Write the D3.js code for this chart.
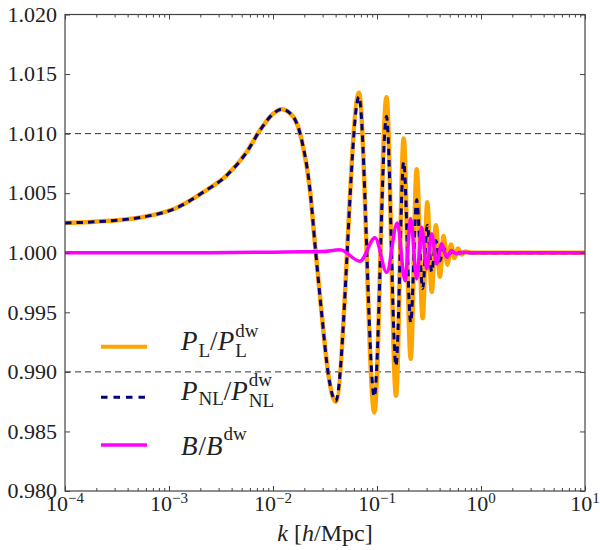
<!DOCTYPE html>
<html>
<head>
<meta charset="utf-8">
<script src="https://cdn.jsdelivr.net/npm/d3@7"></script>
<style>
  body { margin: 0; background: #fff; }
</style>
</head>
<body>
<div id="chart"></div>
<script>
// Ratio of wiggle / de-wiggled spectra
var kL = [1e-4, 2.7e-4, 5.3e-4, 1.19e-3, 2.14e-3, 3.59e-3, 5.59e-3, 7.5e-3, 0.0101, 0.01213,
  0.0157, 0.0189, 0.0227, 0.0254, 0.0294, 0.0340, 0.0401, 0.0671, 0.0942, 0.1234,
  0.1523, 0.1805, 0.2109, 0.2408, 0.2750, 0.3046, 0.3357, 0.368, 0.402, 0.437,
  0.475, 0.515, 0.555, 0.60, 0.65, 0.71, 0.80, 10];
var ratioL = [1.00250, 1.00268, 1.00296, 1.00378, 1.00509, 1.00650, 1.00846, 1.01028, 1.01169, 1.01205,
  1.01140, 1.00944, 1.00524, 1.00060, 0.99486, 0.98982, 0.98750, 1.01344, 0.98660, 1.01306,
  0.98799, 1.00959, 0.99110, 1.00700, 0.99451, 1.00423, 0.99670, 1.00230, 0.99800, 1.00140,
  0.99900, 1.00070, 0.99955, 1.00035, 0.99985, 1.00010, 1.00000, 1.00000];

var kNL = [1e-4, 2.7e-4, 5.3e-4, 1.19e-3, 2.14e-3, 3.59e-3, 5.59e-3, 7.5e-3, 0.0101, 0.01213,
  0.0157, 0.0189, 0.0227, 0.0254, 0.0294, 0.0340, 0.0401, 0.0671, 0.0942, 0.1234,
  0.1523, 0.1805, 0.2109, 0.2408, 0.2750, 0.3046, 0.3357, 0.368, 0.402, 0.437,
  0.475, 0.53, 0.62, 10];
var ratioNL = [1.00250, 1.00268, 1.00296, 1.00378, 1.00509, 1.00650, 1.00846, 1.01028, 1.01169, 1.01205,
  1.01140, 1.00944, 1.00524, 1.00060, 0.99486, 0.98982, 0.98755, 1.01310, 0.98792, 1.01145,
  0.99052, 1.00763, 0.99415, 1.00444, 0.99700, 1.00230, 0.99840, 1.00100, 0.99930, 1.00040,
  0.99980, 1.00005, 1.00000, 1.00000];

var kB = [1e-4, 3e-4, 1e-3, 4e-3, 0.01, 0.02, 0.03, 0.0441, 0.0686, 0.0957,
  0.1240, 0.1567, 0.1859, 0.2109, 0.2408, 0.2690, 0.3005, 0.3357, 0.375, 0.4189,
  0.468, 0.52, 0.58, 0.66, 0.80, 10];
var ratioB = [1.00000, 1.00000, 1.00000, 1.00002, 1.00005, 1.00008, 1.00010, 1.00025, 0.99929, 1.00126,
  0.99836, 1.00249, 0.99766, 1.00286, 0.99781, 1.00215, 0.99865, 1.00159, 0.99907, 1.00075,
  0.99963, 1.00018, 0.99992, 1.00004, 1.00000, 1.00000];

var yTicks = [0.980, 0.985, 0.990, 0.995, 1.000, 1.005, 1.010, 1.015, 1.020];
var xTickExps = [-4, -3, -2, -1, 0, 1];
var refLines = [0.990, 1.010];

var FONT = "Liberation Serif";
var INK = "#222";

var svgWidth = 600;
var svgHeight = 550;
var margin = { top: 14.5, right: 15, bottom: 59, left: 65 };
var width = svgWidth - margin.left - margin.right;
var height = svgHeight - margin.top - margin.bottom;

var svg = d3.select("#chart")
  .append("svg")
  .attr("width", svgWidth)
  .attr("height", svgHeight);

var chartGroup = svg.append("g")
  .attr("transform", `translate(${margin.left}, ${margin.top})`);

var xScale = d3.scaleLog().domain([1e-4, 10]).range([0, width]);
var yScale = d3.scaleLinear().domain([0.980, 1.020]).range([height, 0]);

// dashed guide lines
chartGroup.selectAll(".ref")
  .data(refLines)
  .enter()
  .append("line")
  .attr("x1", 0)
  .attr("x2", width)
  .attr("y1", d => yScale(d))
  .attr("y2", d => yScale(d))
  .attr("stroke", "#333")
  .attr("stroke-width", 1)
  .attr("stroke-dasharray", "6,4");

function drawCurve(ks, vals, color, lw, dash) {
  var pts = ks.map((k, i) => [xScale(k), yScale(vals[i])]);
  var path = chartGroup.append("path")
    .attr("d", d3.line().curve(d3.curveMonotoneX)(pts))
    .attr("fill", "none")
    .attr("stroke", color)
    .attr("stroke-width", lw);
  if (dash) path.attr("stroke-dasharray", dash);
}

drawCurve(kL, ratioL, "#FFA500", 4.5);
drawCurve(kNL, ratioNL, "#000080", 3, "6.5,5");
drawCurve(kB, ratioB, "#FF00FF", 3.5);

// ticks (inward, mirrored on all sides)
var majorX = xTickExps.map(e => Math.pow(10, e));
var minorX = [];
xTickExps.slice(0, -1).forEach(function (e) {
  for (var m = 2; m < 10; m++) minorX.push(m * Math.pow(10, e));
});

function tickSet(axisFn, values, size, transform) {
  var g = chartGroup.append("g")
    .attr("transform", transform)
    .call(axisFn.tickValues(values).tickSize(size).tickFormat(""));
  g.select(".domain").remove();
  g.selectAll("line").attr("stroke", "#444").attr("stroke-width", 1);
}

tickSet(d3.axisBottom(xScale), majorX, -5, `translate(0, ${height})`);
tickSet(d3.axisBottom(xScale), minorX, -3, `translate(0, ${height})`);
tickSet(d3.axisTop(xScale), majorX, -5, "translate(0, 0)");
tickSet(d3.axisTop(xScale), minorX, -3, "translate(0, 0)");
tickSet(d3.axisLeft(yScale), yTicks, -5, "translate(0, 0)");
tickSet(d3.axisRight(yScale), yTicks, -5, `translate(${width}, 0)`);

// frame
chartGroup.append("rect")
  .attr("width", width)
  .attr("height", height)
  .attr("fill", "none")
  .attr("stroke", "#444")
  .attr("stroke-width", 1.2);

// y tick labels
chartGroup.selectAll(".ylab")
  .data(yTicks)
  .enter()
  .append("text")
  .attr("x", -8)
  .attr("y", d => yScale(d))
  .attr("dy", "0.33em")
  .attr("text-anchor", "end")
  .attr("font-family", FONT)
  .attr("font-size", 22)
  .attr("fill", INK)
  .text(d3.format(".3f"));

// x tick labels 10^n
var xLabs = chartGroup.selectAll(".xlab")
  .data(xTickExps)
  .enter()
  .append("text")
  .attr("x", d => xScale(Math.pow(10, d)))
  .attr("y", height + 20)
  .attr("text-anchor", "middle")
  .attr("font-family", FONT)
  .attr("font-size", 22)
  .attr("fill", INK);
xLabs.append("tspan").text("10");
xLabs.append("tspan")
  .attr("dy", -8)
  .attr("font-size", 15)
  .text(d => d < 0 ? "\u2212" + (-d) : d);

// x axis title
var xTitle = chartGroup.append("text")
  .attr("x", width / 2)
  .attr("y", height + 50)
  .attr("text-anchor", "middle")
  .attr("font-family", FONT)
  .attr("font-size", 24)
  .attr("fill", INK);
xTitle.append("tspan").attr("font-style", "italic").text("k");
xTitle.append("tspan").text(" [");
xTitle.append("tspan").attr("font-style", "italic").text("h");
xTitle.append("tspan").text("/Mpc]");

// legend
var legendRows = [
  { color: "#FFA500", lw: 4, dash: null, y: 346.7, base: 350,
    parts: [["P", 27, 1, 0], ["L", 19, 0, 7], ["/", 27, 0, 0], ["P", 27, 1, 0], ["dw", 19, 0, -13], ["L", 19, 0, 7, 1]] },
  { color: "#000080", lw: 3, dash: "6.5,6", y: 397.3, base: 399.5,
    parts: [["P", 27, 1, 0], ["NL", 19, 0, 5], ["/", 27, 0, 0], ["P", 27, 1, 0], ["dw", 19, 0, -14], ["NL", 19, 0, 7, 1]] },
  { color: "#FF00FF", lw: 3.5, dash: null, y: 445, base: 455,
    parts: [["B", 27, 1, 0], ["/", 27, 0, 0], ["B", 27, 1, 0], ["dw", 19, 0, -15]] }
];

legendRows.forEach(function (row) {
  var ln = svg.append("line")
    .attr("x1", 101).attr("x2", 147)
    .attr("y1", row.y).attr("y2", row.y)
    .attr("stroke", row.color)
    .attr("stroke-width", row.lw);
  if (row.dash) ln.attr("stroke-dasharray", row.dash);

  var cx = 181, prevX = 181, prevW = 0;
  row.parts.forEach(function (p) {
    var x = p[4] ? prevX : cx;
    var t = svg.append("text")
      .attr("x", x)
      .attr("y", row.base + p[3])
      .attr("font-family", FONT)
      .attr("font-size", p[1])
      .attr("font-style", p[2] ? "italic" : "normal")
      .attr("fill", INK)
      .text(p[0]);
    var w = t.node().getComputedTextLength();
    if (p[4]) {
      cx = x + Math.max(w, prevW);
    } else {
      prevX = x;
      prevW = w;
      cx = x + w + (p[2] ? 1 : 0);
    }
  });
});
</script>
</body>
</html>
